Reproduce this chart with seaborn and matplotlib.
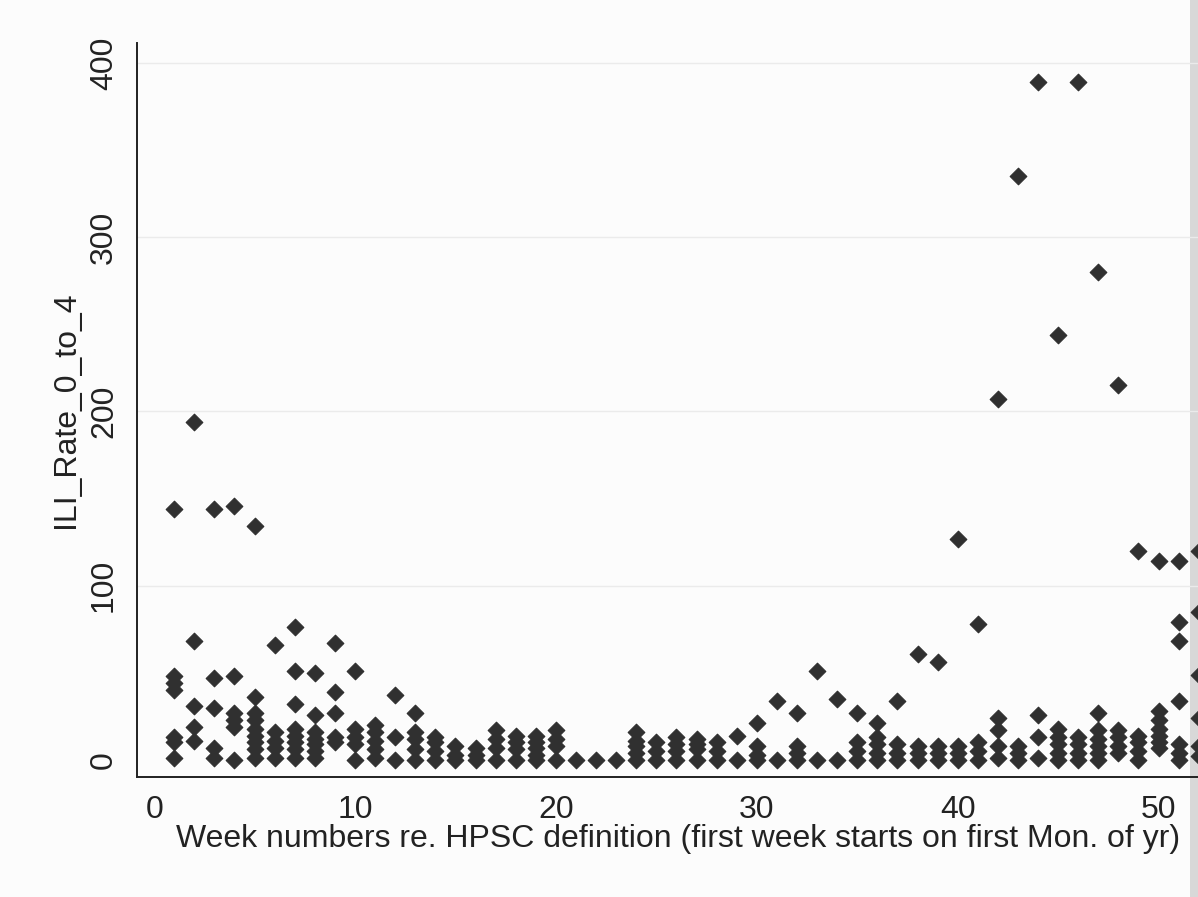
import numpy as np
import pandas as pd
import seaborn as sns
import matplotlib
matplotlib.use("Agg")
import matplotlib.pyplot as plt
from matplotlib.patches import Rectangle

# ILI consultation rate, ages 0-4, per HPSC week (several seasons overlaid)
weeks = list(range(1, 53))

rates_w01_w13 = [
    [144, 48, 44, 40, 13, 10, 1],
    [194, 68, 31, 19, 11],
    [144, 47, 30, 7, 1],
    [146, 48, 27, 23, 19, 0],
    [134, 36, 27, 23, 18, 14, 10, 6, 1],
    [66, 16, 11, 7, 1],
    [76, 51, 32, 18, 14, 10, 6, 1],
    [50, 26, 16, 12, 9, 5, 1],
    [67, 39, 27, 13, 10],
    [51, 18, 13, 9, 0],
    [20, 16, 11, 6, 1],
    [37, 13, 0],
    [27, 16, 12, 6, 0],
]
rates_w14_w26 = [
    [13, 10, 5, 0],
    [8, 3, 0],
    [7, 3, 0],
    [17, 12, 7, 0],
    [14, 10, 6, 0],
    [14, 10, 7, 3, 0],
    [17, 12, 8, 0],
    [0],
    [0],
    [0],
    [16, 11, 8, 4, 0],
    [10, 5, 0],
    [13, 9, 5, 0],
]
rates_w27_w39 = [
    [12, 9, 6, 0],
    [10, 5, 0],
    [14, 0],
    [21, 8, 3, 0],
    [34, 0],
    [27, 8, 4, 0],
    [51, 0],
    [35, 0],
    [27, 10, 5, 0],
    [21, 13, 9, 4, 0],
    [34, 9, 4, 0],
    [61, 8, 4, 0],
    [56, 8, 4, 0],
]
rates_w40_w52 = [
    [127, 8, 4, 0],
    [78, 10, 5, 0],
    [207, 24, 17, 8, 1],
    [335, 8, 4, 0],
    [389, 26, 13, 1],
    [244, 18, 13, 9, 4, 0],
    [389, 13, 9, 4, 0],
    [280, 27, 17, 12, 8, 4, 0],
    [215, 17, 13, 8, 4],
    [120, 14, 10, 5, 0],
    [114, 28, 23, 18, 14, 10, 7],
    [114, 79, 68, 34, 9, 4, 0],
    [120, 85, 49, 24, 8, 2],
]

y_ticks = [0, 100, 200, 300, 400]
x_ticks = [0, 10, 20, 30, 40, 50]
x_title = "Week numbers re. HPSC definition (first week starts on first Mon. of yr)"
y_title = "ILI_Rate_0_to_4"

all_rates = rates_w01_w13 + rates_w14_w26 + rates_w27_w39 + rates_w40_w52
rows = [(w, r) for w, rs in zip(weeks, all_rates) for r in rs]
df = pd.DataFrame(rows, columns=["week", "rate"])

sns.set_theme(style="white")
plt.rcParams["font.family"] = ["Liberation Sans", "DejaVu Sans"]

ink = "#303030"
paper = "#fcfcfc"
fig = plt.figure(figsize=(11.98, 8.97), dpi=100, facecolor=paper)

# shaded strip along the right edge of the sheet, kept beneath the plot
fig.patches.append(Rectangle((1190 / 1198, 0), 8 / 1198, 1, transform=fig.transFigure,
                             facecolor="#d8d8d8", edgecolor="none", zorder=-5))

ax = fig.add_axes([0.1144, 0.1338, 0.903, 0.8183])
ax.patch.set_alpha(0)

for yv in y_ticks[1:]:
    ax.axhline(yv, color="#ebebeb", lw=1.0, zorder=0)

sns.scatterplot(data=df, x="week", y="rate", marker="D", s=72,
                color=ink, edgecolor=ink, linewidth=0.8, ax=ax, zorder=3,
                clip_on=False)

ax.set_xlim(-0.85, 53.0)
ax.set_ylim(-9.8, 411.5)
ax.set_xticks(x_ticks)
ax.set_yticks(y_ticks)

for side in ("top", "right"):
    ax.spines[side].set_visible(False)
for side in ("left", "bottom"):
    ax.spines[side].set_color("#222222")
    ax.spines[side].set_linewidth(1.4)

ax.tick_params(axis="both", direction="out", length=9, width=1.3,
               color="#222222", labelsize=23, labelcolor="#222222", pad=4)
ax.tick_params(axis="y", labelrotation=90)
for lab in ax.get_yticklabels():
    lab.set_va("center")

ax.set_xlabel(x_title, fontsize=23, color="#222222", labelpad=-1)
ax.set_ylabel(y_title, fontsize=23, color="#222222", labelpad=6)

fig.savefig("out.png", dpi=100, facecolor=fig.get_facecolor())
